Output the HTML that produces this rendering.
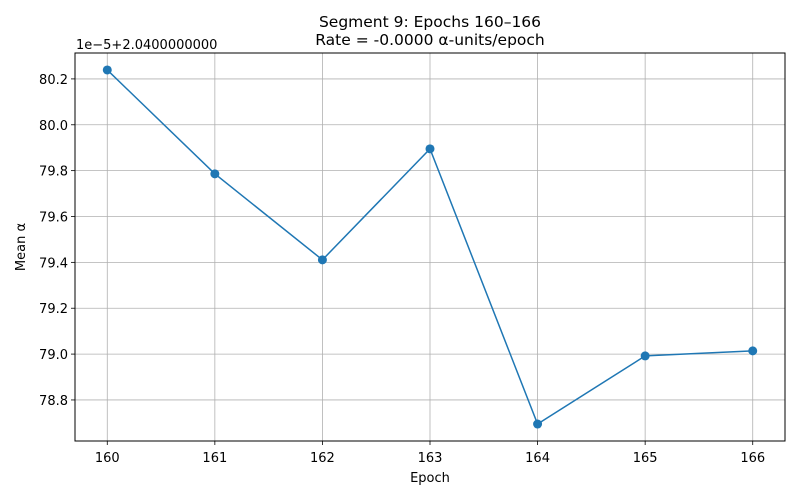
<!DOCTYPE html>
<html><head><meta charset="utf-8"><style>
body{margin:0;background:#fff;}
svg{display:block;font-family:"DejaVu Sans","Liberation Sans",sans-serif;}
</style></head><body>
<svg id="chart" width="800" height="500"></svg>
<script>
const epochs=[160,161,162,163,164,165,166];
const meanAlpha=[80.239,79.786,79.411,79.895,78.695,78.992,79.014];
const xTicks=[160,161,162,163,164,165,166];
const yTicks=[78.8,79.0,79.2,79.4,79.6,79.8,80.0,80.2];
const L=75,R=785,T=53,B=441;
const xMin=159.7,xMax=166.3,yMin=78.621,yMax=80.313;
const sx=v=>L+(v-xMin)/(xMax-xMin)*(R-L);
const sy=v=>B-(v-yMin)/(yMax-yMin)*(B-T);
const NS="http://www.w3.org/2000/svg";
const svg=document.getElementById('chart');
function mk(tag,attrs,parent){const e=document.createElementNS(NS,tag);for(const k in attrs)e.setAttribute(k,attrs[k]);(parent||svg).appendChild(e);return e;}
const grid=mk('g',{});


xTicks.forEach(t=>{
  const x=sx(t);
  mk('line',{x1:x,x2:x,y1:T,y2:B,stroke:'#b0b0b0','stroke-width':0.8},grid);
  mk('line',{x1:x,x2:x,y1:B,y2:B+4,stroke:'#000','stroke-width':0.8});
  const tx=mk('text',{x:x,y:B+21,'text-anchor':'middle','font-size':13,fill:'#000'});
  tx.textContent=t;
  
  
});
yTicks.forEach(t=>{
  const y=sy(t);
  mk('line',{x1:L,x2:R,y1:y,y2:y,stroke:'#b0b0b0','stroke-width':0.8},grid);
  mk('line',{x1:L-4,x2:L,y1:y,y2:y,stroke:'#000','stroke-width':0.8});
  const tx=mk('text',{x:L-7,y:y+5,'text-anchor':'end','font-size':13,fill:'#000'});
  tx.textContent=t.toFixed(1);
  
  
});
const line=mk('polyline',{points:epochs.map((e,i)=>sx(e)+','+sy(meanAlpha[i])).join(' '),fill:'none',stroke:'#1f77b4','stroke-width':1.5});


epochs.forEach((e,i)=>{
  const c=mk('circle',{cx:sx(e),cy:sy(meanAlpha[i]),r:4.5,fill:'#1f77b4'});
  
  
});
const frame=mk('rect',{x:L,y:T,width:R-L,height:B-T,fill:'none',stroke:'#000','stroke-width':1});


function txt(s,a,name){const t=mk('text',a);t.textContent=s;return t;}
txt('Segment 9: Epochs 160\u2013166',{x:430,y:27,'text-anchor':'middle','font-size':15.5,fill:'#000'},'chart-title');
txt('Rate = -0.0000 \u03b1-units/epoch',{x:430,y:45,'text-anchor':'middle','font-size':15.5,fill:'#000'},'chart-subtitle');
txt('1e\u22125+2.0400000000',{x:76,y:49,'font-size':13,fill:'#000'},'y-offset-label');
txt('Epoch',{x:430,y:482,'text-anchor':'middle','font-size':13,fill:'#000'},'x-axis-title');
txt('Mean \u03b1',{x:0,y:0,'text-anchor':'middle','font-size':13,fill:'#000',transform:'translate(25,247) rotate(-90)'},'y-axis-title');
</script>
</body></html>
